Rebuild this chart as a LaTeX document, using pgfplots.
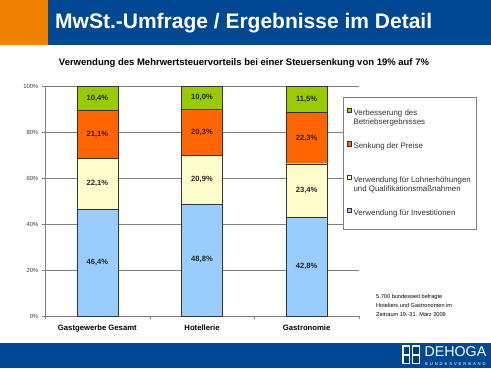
\documentclass[border=0pt]{standalone}
\usepackage{pgfplots}
\usepackage{pgfplotstable}
\pgfplotsset{compat=1.18}
\usepackage{fontspec}
\setmainfont{Liberation Sans}
\definecolor{hdrblue}{RGB}{0,72,146}
\definecolor{hdrorange}{RGB}{240,128,0}
\definecolor{cblue}{RGB}{153,204,255}
\definecolor{cyellow}{RGB}{255,255,204}
\definecolor{corange}{RGB}{255,102,0}
\definecolor{cgreen}{RGB}{153,204,0}
\definecolor{ticklab}{RGB}{60,60,60}
\definecolor{legtext}{RGB}{50,50,50}
\definecolor{gridc}{RGB}{128,128,128}

\pgfplotstableread{
x y
0 46.4
1 48.8
2 42.8
}\invest
\pgfplotstableread{
x y
0 22.1
1 20.9
2 23.4
}\lohn
\pgfplotstableread{
x y
0 21.1
1 20.3
2 22.3
}\preise
\pgfplotstableread{
x y
0 10.4
1 10.0
2 11.5
}\verb
% label positions (middle of each segment) and values
\pgfplotstableread{
x y v
0 23.20 46.4
1 24.40 48.8
2 21.40 42.8
0 57.45 22.1
1 59.25 20.9
2 54.50 23.4
0 79.05 21.1
1 79.85 20.3
2 77.35 22.3
0 94.80 10.4
1 95.00 10.0
2 94.25 11.5
}\labels

\pgfplotsset{
  /pgf/number format/assume math mode=true,
  sq legend/.style={legend image code/.code={
    \draw[##1, draw=black!80, line width=0.4pt] (0pt,0.5pt) rectangle (4.5pt,5pt);}},
}
\newcommand{\lent}[2]{\begin{tabular}[t]{@{}l@{}}#1\\#2\end{tabular}}

\begin{document}
\begin{tikzpicture}[x=1pt,y=1pt]
\useasboundingbox (0,0) rectangle (491,368);
\fill[white] (0,0) rectangle (491,368);
% header
\fill[hdrorange] (0,323) rectangle (48,368);
\fill[hdrblue] (48,323) rectangle (491,368);
\node[anchor=base west, text=white, font=\fontsize{21}{23}\selectfont\bfseries, inner sep=0] at (55,339.5) {MwSt.-Umfrage / Ergebnisse im Detail};
\node[font=\fontsize{9.5}{11}\selectfont\bfseries, inner sep=0] at (244,305) {Verwendung des Mehrwertsteuervorteils bei einer Steuersenkung von 19\% auf 7\%};
% footer
\fill[hdrblue] (0,0) rectangle (491,25);
\fill[white] (402,4) rectangle (410,23);
\fill[white] (411.5,4) rectangle (420,23);
\fill[hdrblue!80!black] (403.5,14) rectangle (408.5,21.5);
\fill[hdrblue!80!black] (413,14) rectangle (418.5,21.5);
\fill[hdrblue!80!black] (403.5,5.5) rectangle (408.5,12);
\fill[hdrblue!80!black] (413,5.5) rectangle (418.5,12);
\node[anchor=base west, text=white, font=\fontsize{14.2}{15}\selectfont, inner sep=0] at (424.5,12) {DEHOGA};
\node[anchor=base west, text=white, font=\fontsize{4.2}{4}\selectfont\addfontfeatures{LetterSpace=45}, inner sep=0] at (425,2.5) {BUNDESVERBAND};
% note
\node[anchor=base west, inner sep=0, font=\fontsize{5.6}{7}\selectfont] at (376,70) {5.700 bundesweit befragte};
\node[anchor=base west, inner sep=0, font=\fontsize{5.6}{7}\selectfont] at (376,61) {Hoteliers und Gastronomen im};
\node[anchor=base west, inner sep=0, font=\fontsize{5.6}{7}\selectfont] at (376,52) {Zeitraum 19.-31. März 2009};

\begin{axis}[
  at={(45pt,52pt)}, anchor=south west,
  scale only axis, width=314pt, height=230pt,
  ybar stacked, bar width=41pt,
  xmin=-0.5, xmax=2.5, ymin=0, ymax=100,
  axis x line=bottom, axis y line=left,
  axis line style={-, draw=gridc},
  tick align=outside,
  ytick={0,20,40,60,80,100},
  yticklabel={\pgfmathprintnumber{\tick}\%},
  ymajorgrids, grid style={draw=gridc, line width=0.4pt},
  y tick label style={font=\fontsize{5.9}{6}\selectfont, text=ticklab},
  major tick length=3pt, minor tick length=3pt,
  tick style={draw=gridc},
  xtick={0,1,2},
  xticklabels={Gastgewerbe Gesamt, Hotellerie, Gastronomie},
  x tick label style={font=\fontsize{7.7}{8}\selectfont\bfseries, yshift=-2pt},
  major x tick style={draw=none},
  minor xtick={-0.5,0.5,1.5,2.5},
  reverse legend,
  legend style={at={(0.949,0.952)}, anchor=north west, draw=gridc, fill=white,
    font=\fontsize{7.9}{9}\selectfont, text=legtext, row sep=21.5pt, inner xsep=3.5pt, inner ysep=10pt,
    cells={anchor=base west}},
  legend cell align=left,
]
\addplot[fill=cblue, draw=black!80, line width=0.4pt, sq legend] table[x=x,y=y] {\invest};
\addplot[fill=cyellow, draw=black!80, line width=0.4pt, sq legend] table[x=x,y=y] {\lohn};
\addplot[fill=corange, draw=black!80, line width=0.4pt, sq legend] table[x=x,y=y] {\preise};
\addplot[fill=cgreen, draw=black!80, line width=0.4pt, sq legend] table[x=x,y=y] {\verb};
\legend{{\lent{Verwendung für Investitionen}{\rule[-7pt]{0pt}{10pt}}},
        {\lent{Verwendung für Lohnerhöhungen}{und Qualifikationsmaßnahmen}},
        {\lent{Senkung der Preise}{\strut}},
        {\lent{Verbesserung des}{Betriebsergebnisses}}}
\end{axis}

\begin{axis}[
  at={(45pt,52pt)}, anchor=south west,
  scale only axis, width=314pt, height=230pt,
  xmin=-0.5, xmax=2.5, ymin=0, ymax=100,
  hide axis,
]
\addplot[draw=none, mark=none, point meta=explicit,
  nodes near coords={\pgfmathprintnumber[fixed, fixed zerofill, precision=1, use comma]{\pgfplotspointmeta}\%},
  every node near coord/.append style={anchor=center, font=\fontsize{7.6}{8}\selectfont\bfseries, text=black!85}]
  table[x=x, y=y, meta=v] {\labels};
\end{axis}
\end{tikzpicture}
\end{document}
